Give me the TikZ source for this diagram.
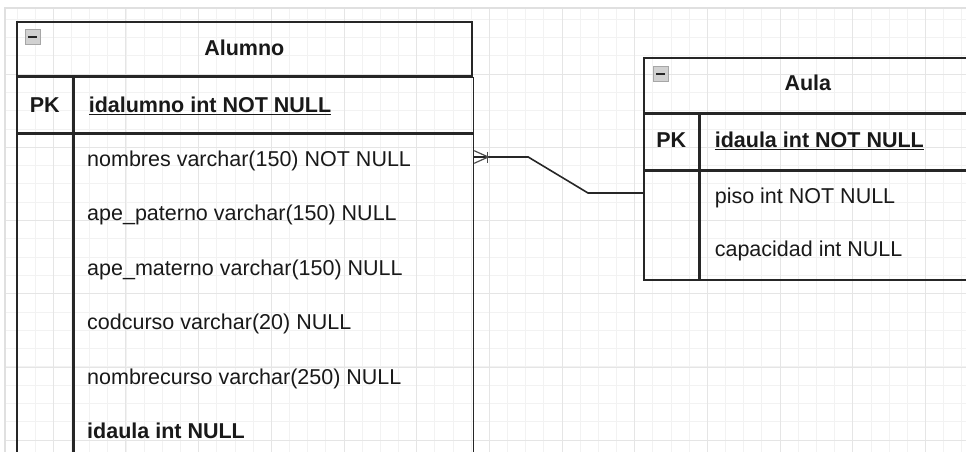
\documentclass[tikz,border=0pt]{standalone}
\usepackage{fontspec}
\setmainfont{Liberation Sans}
\usetikzlibrary{positioning}

\tikzset{
  tabla/.style={draw=black!85, line width=1.6pt, inner sep=0pt, anchor=north west},
  titulo/.style={anchor=base, inner sep=0pt, text=black!90, font=\fontsize{21.5}{26}\selectfont\bfseries},
  campo/.style={anchor=base west, inner sep=0pt, text=black!90, font=\fontsize{21.5}{26}\selectfont},
  clave/.style={campo, font=\fontsize{21.5}{26}\selectfont\bfseries},
  icono/.style={draw=black!35, fill=black!18, line width=0.8pt, minimum size=15pt, inner sep=0pt, anchor=north west,
    path picture={\draw[black!85, line width=1.8pt] ([xshift=-4.5pt]path picture bounding box.center) -- ([xshift=4.5pt]path picture bounding box.center);}},
  conector/.style={draw=black!85, line width=1.6pt},
  pata/.style={draw=black!70, line width=1.2pt},
  rejilla/.style={draw=black!5, line width=1pt},
  rejillamayor/.style={draw=black!10, line width=1pt},
  borde/.style={draw=black!12, line width=2pt},
}

\begin{document}
\begin{tikzpicture}[x=1pt, y=-1pt]
\useasboundingbox (0,0) rectangle (966,452);
\clip (0,0) rectangle (966,452);

% fondo cuadriculado
\foreach \i in {0,...,52} \draw[rejilla] ({17+18.17*\i},8) -- ({17+18.17*\i},452);
\foreach \j in {0,...,23} \draw[rejilla] (5,{19.2+18.3*\j}) -- (966,{19.2+18.3*\j});
\foreach \i in {0,...,12} \draw[rejillamayor] ({53.3+72.68*\i},8) -- ({53.3+72.68*\i},452);
\foreach \j in {1,...,6} \draw[rejillamayor] (5,{1.1+73.2*\j}) -- (966,{1.1+73.2*\j});
\draw[borde] (5,452) -- (5,8) -- (966,8);

% tabla Alumno
\node[tabla, minimum width=455pt, minimum height=54pt] (alumno) at (16,21) {};
\node[tabla, minimum width=56pt, minimum height=55pt] (alumnoPK) at (alumno.south west) {};
\node[tabla, minimum width=399pt, minimum height=55pt] (alumnoClave) at (alumnoPK.north east) {};
\node[tabla, minimum width=56pt, minimum height=340pt] (alumnoCol) at (alumnoPK.south west) {};
\node[tabla, minimum width=399pt, minimum height=340pt] (alumnoCampos) at (alumnoCol.north east) {};
\node[icono] (icoAlumno) at ([xshift=9pt,yshift=-8pt]alumno.north west) {};
\node[titulo] (tAlumno) at ([yshift=-34.7pt]alumno.north) {Alumno};
\node[clave, anchor=base] (pkAlumno) at ([yshift=-35.7pt]alumnoPK.north) {PK};
\node[clave] (idalumno) at ([xshift=15pt,yshift=-35.7pt]alumnoClave.north west) {\underline{idalumno int NOT NULL}};
\foreach \campo [count=\i from 0] in {nombres varchar(150) NOT NULL, ape\_paterno varchar(150) NULL,
    ape\_materno varchar(150) NULL, codcurso varchar(20) NULL, nombrecurso varchar(250) NULL}
  \node[campo] (alumnoF\i) at (87,{166+54.5*\i}) {\campo};
\node[clave] (alumnoFk) at (87,438.5) {idaula int NULL};

% tabla Aula
\node[tabla, minimum width=328pt, minimum height=55pt] (aula) at (643,57) {};
\node[tabla, minimum width=55pt, minimum height=55pt] (aulaPK) at (aula.south west) {};
\node[tabla, minimum width=273pt, minimum height=55pt] (aulaClave) at (aulaPK.north east) {};
\node[tabla, minimum width=55pt, minimum height=109pt] (aulaCol) at (aulaPK.south west) {};
\node[tabla, minimum width=273pt, minimum height=109pt] (aulaCampos) at (aulaCol.north east) {};
\node[icono] (icoAula) at ([xshift=10pt,yshift=-9pt]aula.north west) {};
\node[titulo] (tAula) at ([yshift=-33pt]aula.north) {Aula};
\node[clave, anchor=base] (pkAula) at ([yshift=-34pt]aulaPK.north) {PK};
\node[clave] (idaula) at ([xshift=15pt,yshift=-34pt]aulaClave.north west) {\underline{idaula int NOT NULL}};
\node[campo] (piso) at ([xshift=15pt,yshift=-33pt]aulaCampos.north west) {piso int NOT NULL};
\node[campo] (capacidad) at ([xshift=15pt,yshift=-86.3pt]aulaCampos.north west) {capacidad int NULL};

% relacion
\coordinate (r1) at (0,157);
\coordinate (r2) at (0,193);
\coordinate (ini) at (alumnoCampos.east |- r1);
\coordinate (fin) at (aulaCol.west |- r2);
\draw[conector] (ini) -- ([xshift=54pt]ini) -- ([xshift=-55pt]fin) -- (fin);
\draw[pata] ([yshift=6.3pt]ini) -- ([xshift=14pt]ini) -- ([yshift=-6.3pt]ini);
\draw[pata] ([xshift=13.5pt,yshift=5.5pt]ini) -- ([xshift=13.5pt,yshift=-5.5pt]ini);
\end{tikzpicture}
\end{document}
